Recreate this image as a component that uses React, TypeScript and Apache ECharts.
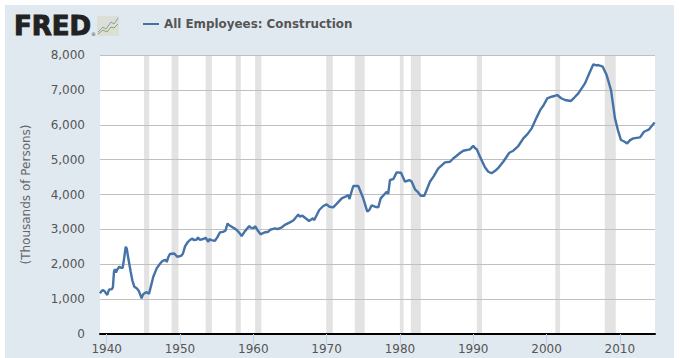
import React, { useEffect, useRef } from "react";
import * as echarts from "echarts";

const seriesName = "All Employees: Construction";
const yAxisTitle = "(Thousands of Persons)";
const yearTicks = [1940, 1950, 1960, 1970, 1980, 1990, 2000, 2010];

const years = [
  1939.09, 1939.3, 1939.45, 1939.7, 1940.08, 1940.2, 1940.35, 1940.68, 1940.85, 1941.0, 1941.13, 1941.27, 1941.45,
  1941.72, 1941.95, 1942.18, 1942.35, 1942.6, 1942.75, 1942.95, 1943.27, 1943.5, 1943.77, 1944.1, 1944.4, 1944.77,
  1944.95, 1945.13, 1945.45, 1945.77, 1946.05, 1946.36, 1946.82, 1947.15, 1947.5, 1947.75, 1948.1, 1948.2, 1948.4, 1948.63,
  1949.2, 1949.63, 1950.14, 1950.4, 1950.68, 1951.0, 1951.36, 1951.7, 1951.9, 1952.3, 1952.45, 1952.7, 1953.18, 1953.5,
  1953.86, 1954.0, 1954.3, 1954.77, 1955.1, 1955.46, 1955.87, 1956.2, 1956.5, 1956.62, 1957.05, 1957.4, 1957.74, 1958.1,
  1958.42, 1958.87, 1959.45, 1959.6, 1960.1, 1960.25, 1960.6, 1961.0, 1961.5, 1962.05, 1962.3, 1962.96, 1963.3, 1963.9,
  1964.3, 1965.0, 1965.5, 1966.14, 1966.3, 1966.7, 1967.28, 1967.6, 1968.15, 1968.3, 1969.0, 1969.55, 1970.0, 1970.4,
  1970.9, 1971.4, 1972.06, 1972.5, 1972.96, 1973.1, 1973.64, 1974.32, 1974.92, 1975.2, 1975.55, 1975.85, 1976.15, 1976.6,
  1977.05, 1977.38, 1978.2, 1978.4, 1978.65, 1979.1, 1979.56, 1980.15, 1980.7, 1981.28, 1981.6, 1982.06, 1982.5, 1982.84,
  1983.33, 1984.1, 1984.6, 1985.24, 1986.15, 1986.84, 1987.3, 1987.75, 1988.2, 1988.65, 1989.56, 1990.0, 1990.2, 1990.5,
  1990.93, 1991.6, 1992.06, 1992.5, 1993.0, 1993.5, 1994.1, 1994.93, 1995.47, 1996.15, 1996.84, 1997.4, 1997.98, 1998.66,
  1999.2, 1999.6, 2000.1, 2000.7, 2001.47, 2002.0, 2002.52, 2003.3, 2003.8, 2004.34, 2005.25, 2005.93, 2006.39, 2006.8,
  2007.07, 2007.67, 2008.2, 2008.8, 2009.34, 2009.8, 2010.16, 2010.6, 2011.0, 2011.4, 2011.85, 2012.76, 2013.3, 2014.0, 2014.75,
];
const employment = [
  1166, 1230, 1261, 1230, 1118, 1200, 1281, 1281, 1340, 1787, 1860, 1760, 1850,
  1930, 1900, 1900, 2120, 2503, 2440, 2170, 1790, 1540, 1357, 1310, 1230, 1023,
  1130, 1166, 1200, 1150, 1380, 1643, 1883, 1980, 2073, 2110, 2122, 2060, 2200, 2294,
  2310, 2216, 2240, 2300, 2503, 2620, 2695, 2740, 2690, 2710, 2770, 2700, 2724, 2760,
  2646, 2720, 2690, 2670, 2780, 2915, 2930, 2960, 3173, 3130, 3076, 3030, 2982, 2900,
  2810, 2950, 3096, 3050, 3040, 3090, 2970, 2858, 2910, 2933, 2990, 3028, 3010, 3060,
  3130, 3200, 3260, 3430, 3370, 3390, 3297, 3240, 3320, 3260, 3555, 3670, 3718, 3650,
  3632, 3740, 3890, 3930, 3985, 3870, 4243, 4243, 3937, 3750, 3507, 3560, 3689, 3650,
  3632, 3889, 4080, 4020, 4415, 4440, 4635, 4625, 4367, 4415, 4370, 4148, 4060, 3965,
  3965, 4367, 4520, 4750, 4922, 4940, 5040, 5112, 5190, 5255, 5295, 5400, 5340, 5290,
  5085, 4780, 4653, 4610, 4680, 4780, 4940, 5198, 5255, 5390, 5610, 5730, 5897, 6212,
  6442, 6560, 6757, 6803, 6852, 6760, 6709, 6680, 6780, 6900, 7187, 7520, 7732, 7700,
  7712, 7664, 7425, 6995, 6184, 5800, 5562, 5520, 5465, 5560, 5610, 5638, 5800, 5868, 6068,
];
const recessionStarts = [1945.1, 1948.85, 1953.5, 1957.6, 1960.25, 1969.95, 1973.85, 1980.0, 1981.5, 1990.5, 2001.2, 2007.95];
const recessionEnds = [1945.8, 1949.8, 1954.35, 1958.3, 1961.1, 1970.85, 1975.2, 1980.5, 1982.85, 1991.2, 2001.85, 2009.45];

export default function App() {
  const ref = useRef<HTMLDivElement>(null);
  useEffect(() => {
    document.body.style.margin = "0";
    const chart = echarts.init(ref.current!, undefined, { renderer: "svg" });
    const font = "'DejaVu Sans', sans-serif";
    chart.setOption({
      animation: false,
      textStyle: { fontFamily: font },
      grid: { left: 100, top: 55, width: 555, height: 279, show: true, backgroundColor: "#fff", borderWidth: 0 },
      legend: {
        data: [seriesName],
        left: 138,
        top: 13,
        itemWidth: 16,
        itemGap: 5,
        icon: "path://M0 0H16V2H0Z",
        itemHeight: 2,
        textStyle: { fontFamily: font, fontWeight: "bold", fontSize: 11.9, color: "#555" },
      },
      xAxis: {
        type: "value",
        min: 1939.09,
        max: 2014.8,
        z: 3,
        splitLine: { show: false },
        axisLine: { show: true, onZero: false, lineStyle: { color: "#000", width: 2 } },
        axisTick: { show: true, length: 11, lineStyle: { color: "#c0d0e0", width: 1 }, customValues: yearTicks },
        axisLabel: {
          customValues: yearTicks,
          formatter: (v: number) => String(v),
          color: "#555",
          fontSize: 12,
          margin: 9,
        },
      },
      yAxis: {
        type: "value",
        min: 0,
        max: 8000,
        interval: 1000,
        z: 2,
        name: yAxisTitle,
        nameLocation: "middle",
        nameGap: 68,
        nameTextStyle: { color: "#666", fontSize: 12, fontFamily: font },
        axisLine: { show: false },
        axisTick: { show: false },
        splitLine: { show: true, lineStyle: { color: "#c0c0c0", width: 1 } },
        axisLabel: { color: "#555", fontSize: 12, margin: 15 },
      },
      series: [
        {
          name: "Recessions",
          type: "line",
          data: [],
          z: 1,
          silent: true,
          markArea: {
            silent: true,
            itemStyle: { color: "#e3e3e3" },
            data: recessionStarts.map((s, i) => [{ xAxis: s }, { xAxis: recessionEnds[i] }]),
          },
        },
        {
          name: seriesName,
          type: "line",
          z: 5,
          showSymbol: false,
          symbol: "none",
          lineStyle: { color: "#4572a7", width: 2.4 },
          itemStyle: { color: "#4572a7" },
          data: years.map((y, i) => [y, employment[i]]),
        },
      ],
      graphic: [
        {
          type: "text",
          x: 14,
          y: 13,
          style: { text: "FRED", fontFamily: font, fontWeight: "bold", fontSize: 26, fill: "#222", stroke: "#222", lineWidth: 1 },
        },
        { type: "text", x: 91, y: 31, style: { text: "®", fontFamily: font, fontSize: 5, fill: "#444" } },
        { type: "rect", shape: { x: 97, y: 16, width: 22, height: 20 }, style: { fill: "#dcdfd6" } },
        {
          type: "polyline",
          shape: { points: [[98, 32], [103, 27], [106, 29], [111, 22], [114, 24], [118, 18]] },
          style: { fill: "none", stroke: "#8b9dbb", lineWidth: 1 },
        },
        {
          type: "polyline",
          shape: { points: [[98, 34], [103, 30], [107, 32], [111, 27], [114, 28], [118, 24]] },
          style: { fill: "none", stroke: "#8aa662", lineWidth: 1 },
        },
      ],
    });
    return () => chart.dispose();
  }, []);
  return (
    <div
      ref={ref}
      style={{
        width: 680,
        height: 358,
        background: "linear-gradient(#e1e9f0,#e1e9f0) no-repeat 5px 5px / 669px 353px",
      }}
    />
  );
}
